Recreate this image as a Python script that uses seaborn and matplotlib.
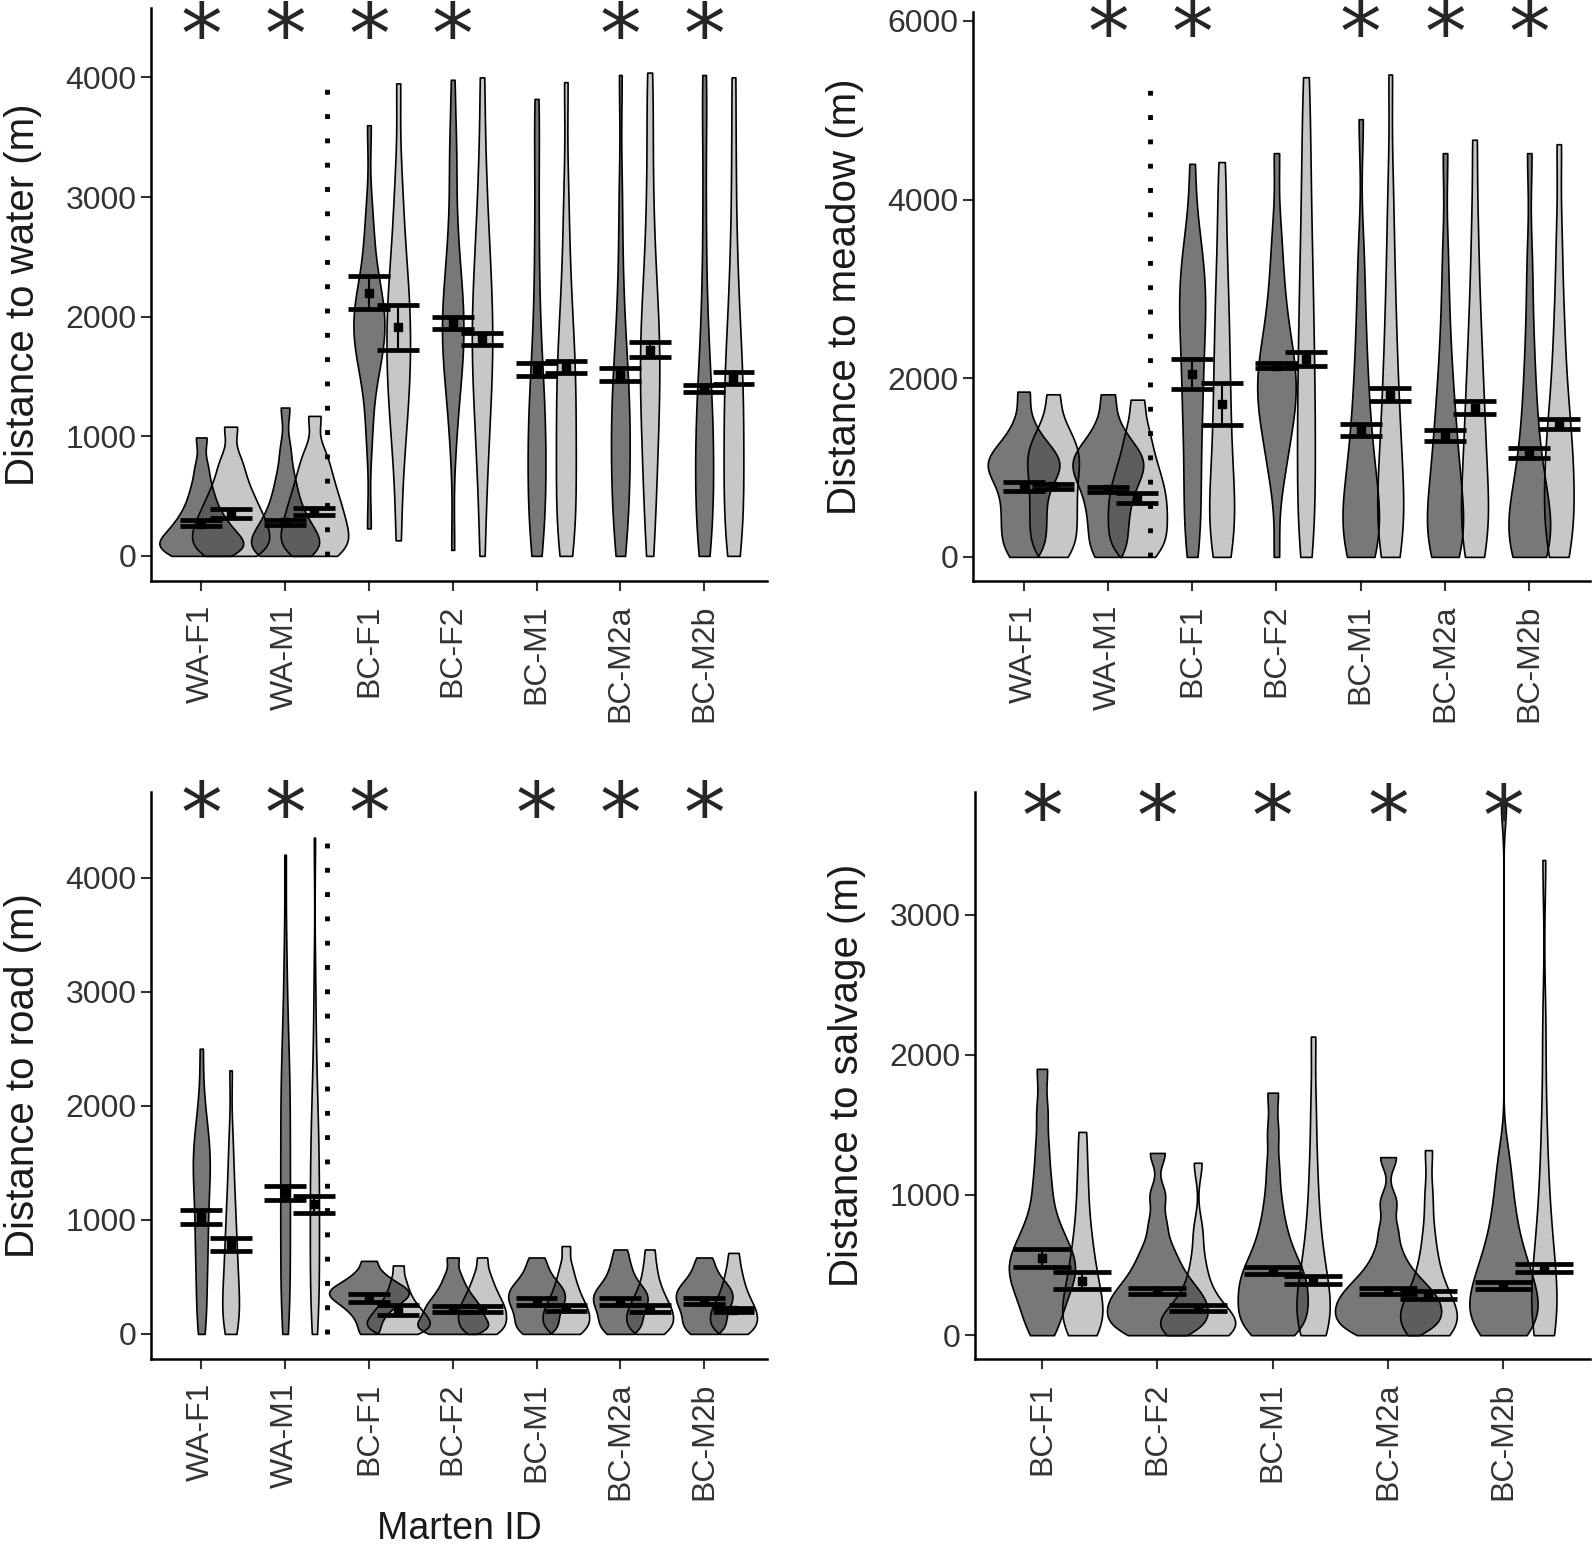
import numpy as np
import pandas as pd
import seaborn as sns
import matplotlib.pyplot as plt

# Marten ID groups
ids_all = ["WA-F1", "WA-M1", "BC-F1", "BC-F2", "BC-M1", "BC-M2a", "BC-M2b"]
ids_bc = ["BC-F1", "BC-F2", "BC-M1", "BC-M2a", "BC-M2b"]

# distance to water (m): used (dark) / available (light), one list per marten
water_used = [
    [0, 20, 40, 60, 80, 100, 120, 150, 180, 220, 260, 300, 350, 420, 500, 600, 750, 990],
    [0, 20, 40, 60, 90, 120, 150, 190, 230, 280, 330, 400, 480, 580, 700, 900, 1240],
    [230, 950, 1250, 1500, 1600, 1680, 1750, 1820, 1880, 1940, 2000, 2060, 2120, 2190, 2280, 2450, 2650, 2900, 3600],
    [50, 900, 1200, 1400, 1520, 1630, 1730, 1820, 1910, 2000, 2090, 2190, 2300, 2450, 2650, 2900, 3300, 3450, 3980],
    [0, 120, 250, 380, 500, 620, 740, 860, 980, 1100, 1220, 1350, 1500, 1700, 2000, 2400, 2900, 3450, 3820],
    [0, 150, 300, 450, 580, 700, 820, 940, 1060, 1180, 1300, 1430, 1570, 1750, 2000, 2400, 3000, 4020],
    [0, 100, 220, 340, 460, 580, 700, 820, 940, 1060, 1180, 1300, 1450, 1650, 1900, 2300, 2900, 3600, 4020],
]
water_avail = [
    [0, 30, 60, 100, 140, 180, 220, 260, 300, 350, 400, 460, 520, 600, 700, 820, 1080],
    [0, 40, 80, 120, 170, 220, 270, 320, 380, 440, 500, 580, 660, 760, 880, 1170],
    [130, 600, 900, 1100, 1250, 1400, 1520, 1640, 1760, 1880, 2000, 2120, 2250, 2400, 2600, 2850, 3200, 3950],
    [0, 500, 800, 1050, 1250, 1420, 1580, 1720, 1860, 2000, 2150, 2320, 2500, 2720, 3000, 3400, 4000],
    [0, 120, 250, 400, 550, 700, 850, 1000, 1150, 1300, 1450, 1600, 1750, 1950, 2200, 2550, 3050, 3960],
    [0, 300, 550, 750, 950, 1120, 1280, 1430, 1570, 1710, 1850, 2000, 2180, 2400, 2700, 3100, 3600, 4040],
    [0, 120, 250, 400, 550, 700, 850, 1000, 1150, 1300, 1450, 1600, 1780, 2000, 2300, 2700, 3300, 4000],
]
water_used_mean = [270, 280, 2200, 1950, 1560, 1510, 1400]
water_used_lo = [250, 260, 2060, 1900, 1500, 1460, 1370]
water_used_hi = [300, 300, 2340, 2000, 1610, 1570, 1430]
water_avail_mean = [350, 370, 1910, 1810, 1580, 1720, 1490]
water_avail_lo = [320, 340, 1720, 1760, 1530, 1660, 1440]
water_avail_hi = [390, 400, 2100, 1860, 1630, 1790, 1540]
water_stars = ["WA-F1", "WA-M1", "BC-F1", "BC-F2", "BC-M2a", "BC-M2b"]

# distance to meadow (m)
meadow_used = [
    [0, 100, 200, 300, 400, 500, 600, 700, 800, 880, 950, 1000, 1050, 1100, 1150, 1220, 1320, 1500, 1850],
    [0, 120, 250, 380, 500, 620, 720, 820, 900, 970, 1030, 1090, 1150, 1220, 1320, 1500, 1820],
    [0, 250, 500, 750, 1000, 1250, 1500, 1700, 1900, 2100, 2300, 2500, 2650, 2800, 2950, 3100, 3250, 3450, 3700, 4400],
    [0, 800, 1050, 1250, 1400, 1550, 1650, 1750, 1850, 1950, 2050, 2150, 2250, 2400, 2550, 2750, 3000, 3300, 3700, 4520],
    [0, 50, 120, 200, 300, 400, 500, 620, 750, 900, 1050, 1250, 1450, 1700, 2000, 2350, 2800, 3400, 4900],
    [0, 50, 120, 200, 300, 400, 520, 650, 800, 950, 1100, 1280, 1480, 1700, 1950, 2300, 2750, 3400, 4520],
    [0, 30, 80, 130, 200, 280, 370, 470, 580, 700, 850, 1000, 1200, 1450, 1750, 2100, 2600, 3300, 4520],
]
meadow_avail = [
    [0, 100, 200, 300, 400, 500, 600, 700, 800, 900, 1000, 1080, 1160, 1250, 1350, 1500, 1820],
    [0, 80, 160, 240, 320, 400, 480, 560, 640, 720, 800, 900, 1000, 1120, 1280, 1450, 1760],
    [0, 100, 250, 400, 550, 700, 900, 1100, 1350, 1600, 1850, 2100, 2400, 2700, 3000, 3400, 3900, 4420],
    [0, 200, 450, 700, 950, 1200, 1450, 1700, 1950, 2200, 2500, 2800, 3100, 3450, 3850, 4300, 4800, 5370],
    [0, 100, 200, 320, 450, 600, 750, 920, 1100, 1300, 1500, 1750, 2000, 2300, 2650, 3050, 3550, 4200, 5400],
    [0, 100, 220, 350, 500, 650, 800, 1000, 1200, 1400, 1600, 1850, 2100, 2400, 2750, 3200, 3800, 4670],
    [0, 100, 220, 350, 500, 650, 800, 950, 1100, 1250, 1400, 1600, 1850, 2150, 2500, 2950, 3600, 4620],
]
meadow_used_mean = [790, 755, 2050, 2140, 1420, 1360, 1160]
meadow_used_lo = [740, 730, 1880, 2110, 1350, 1300, 1110]
meadow_used_hi = [840, 785, 2220, 2170, 1490, 1420, 1220]
meadow_avail_mean = [790, 655, 1710, 2210, 1815, 1670, 1485]
meadow_avail_lo = [760, 600, 1475, 2135, 1745, 1600, 1430]
meadow_avail_hi = [815, 710, 1945, 2290, 1890, 1745, 1540]
meadow_stars = ["WA-M1", "BC-F1", "BC-M1", "BC-M2a", "BC-M2b"]

# distance to road (m)
road_used = [
    [0, 150, 300, 450, 600, 720, 840, 960, 1080, 1200, 1300, 1400, 1480, 1560, 1640, 1720, 1850, 2050, 2500],
    [0, 130, 260, 390, 520, 650, 780, 910, 1040, 1170, 1300, 1430, 1560, 1690, 1820, 1950, 2080, 2210, 2350, 2500, 2700, 3000, 3400, 4200],
    [0, 80, 150, 200, 240, 270, 300, 320, 340, 360, 380, 400, 420, 450, 490, 540, 640],
    [0, 20, 40, 60, 80, 100, 130, 160, 190, 220, 250, 280, 320, 370, 430, 520, 670],
    [0, 40, 80, 120, 160, 200, 240, 270, 300, 330, 360, 390, 420, 460, 510, 580, 670],
    [0, 40, 80, 120, 160, 200, 240, 270, 300, 330, 360, 390, 430, 480, 550, 630, 740],
    [0, 40, 80, 120, 160, 200, 240, 270, 300, 330, 360, 390, 420, 460, 510, 580, 670],
]
road_avail = [
    [0, 50, 100, 160, 220, 290, 360, 440, 520, 610, 700, 800, 900, 1020, 1150, 1300, 1500, 1750, 2310],
    [0, 110, 220, 330, 440, 550, 660, 770, 880, 990, 1100, 1210, 1320, 1430, 1540, 1660, 1780, 1920, 2080, 2300, 2600, 3100, 4350],
    [0, 20, 40, 60, 80, 100, 120, 140, 165, 190, 220, 250, 290, 340, 400, 480, 600],
    [0, 30, 60, 90, 120, 150, 180, 210, 240, 270, 310, 350, 400, 460, 540, 670],
    [0, 30, 60, 90, 120, 150, 180, 210, 240, 280, 320, 370, 430, 500, 600, 770],
    [0, 30, 60, 90, 120, 150, 180, 210, 240, 280, 320, 370, 430, 510, 610, 740],
    [0, 30, 60, 90, 120, 150, 180, 210, 240, 280, 320, 370, 430, 500, 590, 710],
]
road_used_mean = [1025, 1237, 315, 215, 280, 283, 290]
road_used_lo = [966, 1177, 278, 190, 249, 249, 264]
road_used_hi = [1083, 1297, 351, 243, 313, 316, 316]
road_avail_mean = [785, 1135, 210, 215, 227, 220, 208]
road_avail_lo = [726, 1060, 170, 190, 205, 190, 190]
road_avail_hi = [843, 1209, 249, 243, 249, 249, 225]
road_stars = ["WA-F1", "WA-M1", "BC-F1", "BC-M1", "BC-M2a", "BC-M2b"]

# distance to salvage (m), BC martens only
salvage_used = [
    [0, 80, 160, 230, 290, 340, 390, 430, 470, 510, 550, 590, 640, 700, 770, 860, 1000, 1150, 1350, 1600, 1900],
    [0, 30, 60, 90, 120, 150, 180, 210, 240, 270, 300, 340, 380, 430, 490, 560, 650, 800, 1000, 1300],
    [0, 30, 70, 110, 150, 190, 230, 270, 310, 350, 390, 430, 470, 520, 580, 650, 740, 850, 1000, 1200, 1450, 1730],
    [0, 30, 60, 90, 120, 150, 180, 210, 240, 270, 300, 340, 380, 430, 500, 600, 750, 950, 1270],
    [0, 20, 40, 60, 80, 100, 130, 160, 190, 220, 250, 280, 310, 340, 370, 400, 440, 480, 520, 570,
     620, 680, 750, 830, 920, 1020, 1150, 1300, 3800],
]
salvage_avail = [
    [0, 40, 80, 120, 170, 220, 280, 340, 410, 490, 580, 690, 820, 1000, 1200, 1450],
    [0, 10, 20, 35, 50, 70, 90, 115, 140, 170, 210, 260, 330, 420, 550, 750, 1230],
    [0, 30, 70, 110, 160, 210, 270, 330, 400, 480, 580, 700, 850, 1050, 1300, 1650, 2130],
    [0, 20, 45, 70, 100, 130, 160, 195, 235, 280, 330, 400, 490, 600, 760, 1000, 1320],
    [0, 30, 70, 110, 160, 220, 290, 370, 460, 560, 680, 820, 1000, 1250, 1600, 2200, 3390],
]
salvage_used_mean = [548, 318, 461, 313, 352]
salvage_used_lo = [485, 296, 437, 291, 328]
salvage_used_hi = [612, 340, 485, 335, 376]
salvage_avail_mean = [388, 196, 395, 285, 480]
salvage_avail_lo = [328, 175, 364, 255, 449]
salvage_avail_hi = [449, 218, 425, 316, 510]
salvage_stars = ["BC-F1", "BC-F2", "BC-M1", "BC-M2a", "BC-M2b"]

DARK = (0, 0, 0, 0.53)
LIGHT = (0, 0, 0, 0.22)
SHIFT = 0.35

sns.set_style("ticks")
plt.rcParams['font.family'] = ['Liberation Sans', 'DejaVu Sans']


def violins(ax, groups, offset, fill, width, bw):
    pos = np.arange(len(groups)) + offset
    df = pd.DataFrame({
        "pos": np.repeat(pos, [len(g) for g in groups]),
        "value": np.concatenate(groups),
    })
    n0 = len(ax.collections)
    sns.violinplot(data=df, x="pos", y="value", native_scale=True, orient="x",
                   cut=0, inner=None, density_norm="area", width=width,
                   bw_adjust=bw, color="gray", linecolor="black",
                   linewidth=1.2, ax=ax)
    for c in ax.collections[n0:]:
        c.set_facecolor(fill)


def ci_bars(ax, mean, lo, hi, offset):
    x = np.arange(len(mean)) + offset
    ax.vlines(x, lo, hi, color="black", lw=1.5, zorder=5)
    ax.hlines(lo, x - 0.25, x + 0.25, color="black", lw=3.4, zorder=5)
    ax.hlines(hi, x - 0.25, x + 0.25, color="black", lw=3.4, zorder=5)
    ax.plot(x, mean, "s", color="black", ms=6, zorder=6)


def panel(ax, ids, used, avail, ustats, astats, stars, star_y, ylabel,
          ylim, yticks, xlim, widths, divider, bws=(0.6, 0.6)):
    violins(ax, used, 0, DARK, widths[0], bws[0])
    violins(ax, avail, SHIFT, LIGHT, widths[1], bws[1])
    ci_bars(ax, *ustats, 0)
    ci_bars(ax, *astats, SHIFT)
    if divider:
        top = max(max(g) for g in used + avail)
        ax.vlines(1.5, 0, top, color="black", lw=3.5, linestyle=(0, (1, 4)))
    for s in stars:
        ax.annotate("*", (ids.index(s), star_y), xytext=(0, -12),
                    textcoords="offset points", ha="center", va="center",
                    fontsize=60, family="DejaVu Sans", annotation_clip=False)
    ax.set_xlim(*xlim)
    ax.set_ylim(*ylim)
    ax.set_yticks(yticks)
    ax.set_yticklabels([str(t) for t in yticks])
    ax.set_xticks(np.arange(len(ids)))
    ax.set_xticklabels(ids, rotation=90, va="top", ha="center")
    ax.set_xlabel("")
    ax.set_ylabel(ylabel, fontsize=29, color="#1a1a1a")
    ax.yaxis.set_label_coords(-0.177, 0.5)
    ax.tick_params(axis="both", labelsize=23, labelcolor="#333333",
                   length=7, width=1.5, color="#333333")
    ax.tick_params(axis="x", pad=10)
    for sp in ["top", "right"]:
        ax.spines[sp].set_visible(False)
    for sp in ["left", "bottom"]:
        ax.spines[sp].set_linewidth(1.8)
        ax.spines[sp].set_color("black")


W, H = 1594, 1548
fig = plt.figure(figsize=(W / 100, H / 100), dpi=100)


def box(l, r, t, b):
    return [l / W, 1 - b / H, (r - l) / W, (b - t) / H]


ax1 = fig.add_axes(box(151, 767, 8, 581))
ax2 = fig.add_axes(box(973, 1590, 12, 581))
ax3 = fig.add_axes(box(151, 767, 792, 1359))
ax4 = fig.add_axes(box(975, 1590, 792, 1359))

panel(ax1, ids_all, water_used, water_avail,
      (water_used_mean, water_used_lo, water_used_hi),
      (water_avail_mean, water_avail_lo, water_avail_hi),
      water_stars, 4460, "Distance to water (m)", (-210, 4580),
      [0, 1000, 2000, 3000, 4000], (-0.6, 6.75), (1.0, 0.92), True)
panel(ax2, ids_all, meadow_used, meadow_avail,
      (meadow_used_mean, meadow_used_lo, meadow_used_hi),
      (meadow_avail_mean, meadow_avail_lo, meadow_avail_hi),
      meadow_stars, 6000, "Distance to meadow (m)", (-270, 6100),
      [0, 2000, 4000, 6000], (-0.6, 6.72), (0.85, 0.7), True)
panel(ax3, ids_all, road_used, road_avail,
      (road_used_mean, road_used_lo, road_used_hi),
      (road_avail_mean, road_avail_lo, road_avail_hi),
      road_stars, 4660, "Distance to road (m)", (-220, 4750),
      [0, 1000, 2000, 3000, 4000], (-0.6, 6.75), (0.95, 0.75), True)
panel(ax4, ids_bc, salvage_used, salvage_avail,
      (salvage_used_mean, salvage_used_lo, salvage_used_hi),
      (salvage_avail_mean, salvage_avail_lo, salvage_avail_hi),
      salvage_stars, 3786, "Distance to salvage (m)", (-170, 3875),
      [0, 1000, 2000, 3000], (-0.58, 4.75), (0.92, 0.65), False,
      bws=(0.45, 0.6))

ax3.set_xlabel("Marten ID", fontsize=27, color="#1a1a1a", labelpad=8)

fig.savefig("out.png", dpi=100)
